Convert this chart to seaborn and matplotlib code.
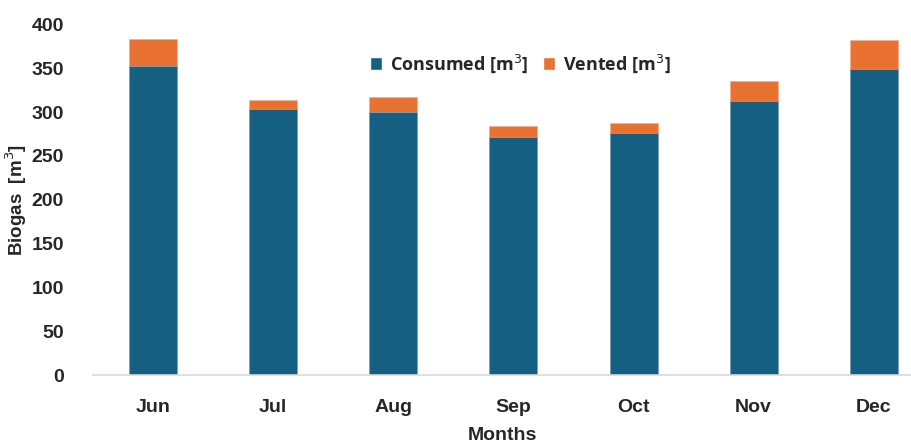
import matplotlib
matplotlib.use("Agg")
import matplotlib.pyplot as plt
import seaborn as sns
import pandas as pd
from matplotlib.patches import Patch

months = ["Jun", "Jul", "Aug", "Sep", "Oct", "Nov", "Dec"]
consumed = [353, 303, 300, 272, 276, 313, 349]
vented = [30, 11, 17, 12, 12, 23, 33]
yticks = [0, 50, 100, 150, 200, 250, 300, 350, 400]

BLUE = "#156082"
ORANGE = "#E97132"

sns.set_theme(style="white")
plt.rcParams["font.family"] = ["Liberation Sans", "DejaVu Sans"]

df = pd.DataFrame({"Month": months, "Consumed": consumed, "Vented": vented})
df["Total"] = df["Consumed"] + df["Vented"]

fig = plt.figure(figsize=(9.11, 4.43), dpi=100)
ax = fig.add_axes([93/911, 1 - 375/443, 1 - 93/911, (375 - 24.5)/443])

sns.barplot(data=df, x="Month", y="Total", color=ORANGE, width=0.4, ax=ax,
            saturation=1, edgecolor="#f4b08a", linewidth=0.6)
sns.barplot(data=df, x="Month", y="Consumed", color=BLUE, width=0.4, ax=ax,
            saturation=1, edgecolor="#7fa7bd", linewidth=0.6)

lab = ["Liberation Sans", "DejaVu Sans"]
ax.set_ylim(0, 400)
ax.set_xlim(-0.5, 6.31)
ax.set_yticks(yticks)
ax.set_yticklabels([str(v) for v in yticks], fontsize=14, fontweight="bold", family=lab)
ax.set_xticks(range(len(months)))
ax.set_xticklabels(months, fontsize=14, fontweight="bold", family=lab)
ax.tick_params(axis="both", length=0)
ax.tick_params(axis="x", pad=17)
ax.tick_params(axis="y", pad=21)

for s in ["top", "right", "left"]:
    ax.spines[s].set_visible(False)
ax.spines["bottom"].set_color("#d9d9d9")
ax.spines["bottom"].set_linewidth(1.2)
ax.grid(False)

ax.set_xlabel("Months", fontsize=14, fontweight="bold", family=lab, labelpad=8)
ax.set_ylabel("Biogas  [m$^3$]", fontsize=13.5, fontweight="bold", family=lab)
ax.yaxis.set_label_coords(-(93 - 29) / 818, 0.5)

handles = [Patch(facecolor=BLUE, label="Consumed [m$^3$]"),
           Patch(facecolor=ORANGE, label="Vented [m$^3$]")]
leg = ax.legend(handles=handles, loc="center", bbox_to_anchor=(520/911, 1 - 64/443),
                bbox_transform=fig.transFigure, ncol=2, frameon=False,
                prop={"family": "Open Sans", "weight": "bold", "size": 13},
                handlelength=0.7, handleheight=0.7, handletextpad=0.4, columnspacing=0.8)

fig.savefig("out.png", dpi=100)
